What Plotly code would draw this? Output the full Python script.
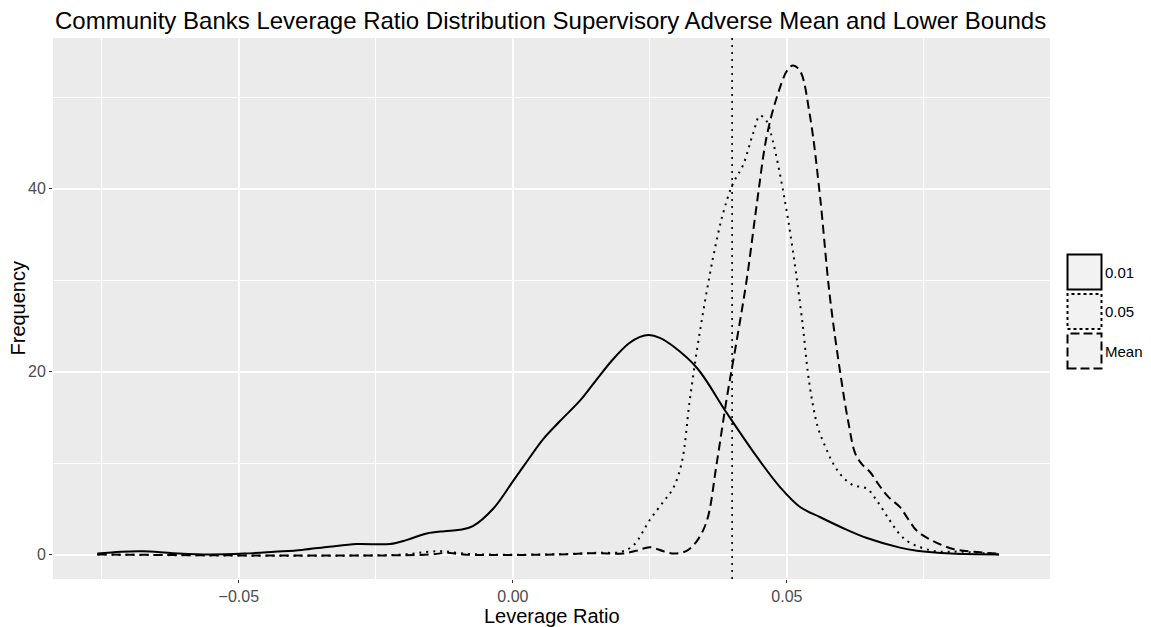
import plotly.graph_objects as go

# ---------------- data ----------------
series_names = ["0.01", "0.05", "Mean"]

x_q01 = [-0.0758, -0.0715, -0.0675, -0.062, -0.0555, -0.049, -0.0435, -0.0385, -0.0335,
         -0.0285, -0.0224, -0.0193, -0.0157, -0.0125, -0.0097, -0.0073, -0.0036, 0.0,
         0.0026, 0.0055, 0.0086, 0.0122, 0.0146, 0.0182, 0.0212, 0.0232, 0.0248, 0.0268,
         0.0292, 0.0336, 0.039, 0.0445, 0.0487, 0.0524, 0.056, 0.0602, 0.0646, 0.0706,
         0.0737, 0.08, 0.0887]
y_q01 = [0.1, 0.3, 0.35, 0.15, 0.0, 0.1, 0.3, 0.5, 0.85,
         1.15, 1.15, 1.6, 2.3, 2.55, 2.7, 3.1, 5.0, 8.0,
         10.2, 12.6, 14.6, 16.8, 18.6, 21.3, 23.1, 23.8, 24.0, 23.7,
         22.8, 20.4, 15.5, 10.7, 7.4, 5.2, 4.1, 2.9, 1.8, 0.75,
         0.4, 0.1, 0.0]

x_q05 = [-0.0758, -0.02, -0.0155, -0.0125, -0.009, -0.005, 0.005, 0.012, 0.0159, 0.0195,
         0.022, 0.025, 0.0275, 0.0292, 0.0308, 0.0323, 0.0341, 0.0365, 0.0383, 0.0401,
         0.042, 0.0438, 0.0451, 0.0463, 0.0474, 0.0493, 0.0511, 0.0529, 0.0538, 0.0547,
         0.0557, 0.057, 0.0584, 0.06, 0.062, 0.0646, 0.0664, 0.0688, 0.0706, 0.0724,
         0.0767, 0.082, 0.0887]
y_q05 = [0.0, 0.0, 0.3, 0.35, 0.1, 0.0, 0.0, 0.1, 0.2, 0.25,
         1.0, 3.8, 5.8, 7.2, 10.0, 17.0, 24.3, 32.4, 37.2, 40.5,
         42.6, 46.0, 48.0, 47.4, 45.3, 39.8, 33.2, 25.0, 20.0, 16.5,
         13.8, 11.8, 10.0, 8.6, 7.6, 7.2, 5.9, 3.7, 2.2, 1.3,
         0.4, 0.3, 0.0]

x_mean = [-0.0758, -0.015, -0.012, -0.009, 0.008, 0.015, 0.02, 0.0225, 0.025, 0.0275,
          0.0295, 0.0317, 0.0336, 0.0354, 0.0372, 0.039, 0.0409, 0.0427, 0.0445, 0.0463,
          0.0482, 0.05, 0.0511, 0.0524, 0.0542, 0.056, 0.0578, 0.0597, 0.0612, 0.0625,
          0.0638, 0.0652, 0.0668, 0.0685, 0.0706, 0.0722, 0.0737, 0.0766, 0.0803, 0.084,
          0.0887]
y_mean = [0.0, 0.0, 0.2, 0.0, 0.0, 0.15, 0.1, 0.4, 0.8, 0.35,
          0.1, 0.4, 1.5, 3.7, 10.0, 17.0, 23.6, 30.2, 38.3, 45.7,
          50.1, 52.9, 53.5, 52.9, 48.0, 39.4, 28.4, 20.0, 14.5, 11.0,
          9.8, 9.0, 7.6, 6.3, 5.2, 3.8, 2.6, 1.5, 0.6, 0.3,
          0.1]

threshold = 0.04

x_tickvals = [-0.05, 0.0, 0.05]
x_ticktext = ["\u22120.05", "0.00", "0.05"]
x_minor = [-0.075, -0.025, 0.025, 0.075]
y_tickvals = [0, 20, 40]
y_ticktext = ["0", "20", "40"]
y_minor = [10, 30, 50]

# ---------------- styling ----------------
FONT = "Liberation Sans, Arial, sans-serif"
W, H = 1151, 627
ML, MR, MT, MB = 53, 101, 38, 48
PW, PH = W - ML - MR, H - MT - MB

dashes = {"0.01": "solid", "0.05": "2px,5px", "Mean": "9px,5px"}
legend_dashes = {"0.01": "solid", "0.05": "3px,3px", "Mean": "9px,4px"}

fig = go.Figure()
for name, xs, ys in zip(series_names, [x_q01, x_q05, x_mean], [y_q01, y_q05, y_mean]):
    fig.add_trace(go.Scatter(
        x=xs, y=ys, mode="lines", name=name,
        line=dict(color="black", width=2, dash=dashes[name], shape="spline", smoothing=1.0),
        showlegend=False,
    ))

# vertical reference line
fig.add_shape(type="line", xref="x", yref="paper", x0=threshold, x1=threshold, y0=0, y1=1,
              line=dict(color="black", width=1.6, dash="2px,5px"))

axis_common = dict(
    showline=False, zeroline=False, showgrid=True, gridcolor="white", gridwidth=1.6,
    ticks="outside", ticklen=3, tickcolor="#333333", tickwidth=1,
    tickfont=dict(family=FONT, size=16, color="#4D4D4D"),
)

fig.update_xaxes(
    range=[-0.0839, 0.098], tickvals=x_tickvals, ticktext=x_ticktext,
    minor=dict(tickvals=x_minor, showgrid=True, gridcolor="white", gridwidth=0.8, ticks=""),
    **axis_common,
)
fig.update_yaxes(
    range=[-2.68, 56.5], tickvals=y_tickvals, ticktext=y_ticktext,
    minor=dict(tickvals=y_minor, showgrid=True, gridcolor="white", gridwidth=0.8, ticks=""),
    **axis_common,
)

def px_to_paper_x(p):
    return (p - ML) / PW

def px_to_paper_y(p):
    return (H - MB - p) / PH

# axis titles
fig.add_annotation(text="Leverage Ratio", xref="paper", yref="paper", x=0.5,
                   y=px_to_paper_y(616), xanchor="center", yanchor="middle", showarrow=False,
                   font=dict(family=FONT, size=20, color="black"))
fig.add_annotation(text="Frequency", xref="paper", yref="paper", x=px_to_paper_x(17),
                   y=0.5, xanchor="center", yanchor="middle", textangle=-90, showarrow=False,
                   font=dict(family=FONT, size=20, color="black"))

# custom legend (ggplot-style keys)
key_centers = [272, 311.5, 351]
for name, cy in zip(series_names, key_centers):
    fig.add_shape(type="rect", xref="paper", yref="paper",
                  x0=px_to_paper_x(1067.5), x1=px_to_paper_x(1101.5),
                  y0=px_to_paper_y(cy + 17.5), y1=px_to_paper_y(cy - 17.5),
                  fillcolor="#F2F2F2",
                  line=dict(color="black", width=2, dash=legend_dashes[name]))
    fig.add_annotation(text=name, xref="paper", yref="paper", x=px_to_paper_x(1103),
                       y=px_to_paper_y(cy), xanchor="left", yanchor="middle", showarrow=False,
                       font=dict(family=FONT, size=15, color="black"))

fig.update_layout(
    width=W, height=H,
    margin=dict(l=ML, r=MR, t=MT, b=MB, pad=0),
    paper_bgcolor="white", plot_bgcolor="#EBEBEB",
    title=dict(text="Community Banks Leverage Ratio Distribution Supervisory Adverse Mean and Lower Bounds",
               xref="container", yref="container", x=55 / W, y=1 - 21 / H,
               xanchor="left", yanchor="middle",
               font=dict(family=FONT, size=24, color="black")),
    showlegend=False,
)

fig.write_html("out.html")
